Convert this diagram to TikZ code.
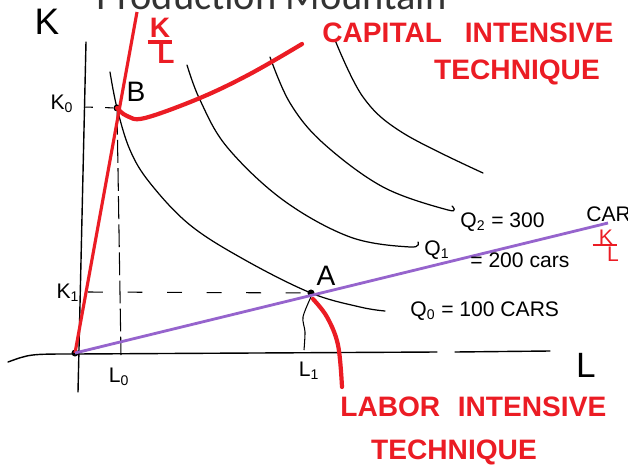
\documentclass[tikz,border=0pt]{standalone}
\usepackage{fontspec}
\setmainfont{Liberation Sans}
\newfontfamily\titlefont{Carlito}
\definecolor{hred}{RGB}{235,28,36}
\definecolor{hpurple}{RGB}{150,100,205}
\usetikzlibrary{arrows.meta,calc}

\begin{document}
\begin{tikzpicture}[x=0.02cm,y=-0.02cm,
  hand/.style={font=\fontsize{12}{14}\selectfont,inner sep=0pt},
  bighand/.style={font=\fontsize{16}{18}\selectfont,inner sep=0pt},
  redhand/.style={text=hred,font=\bfseries\fontsize{16}{18}\selectfont,inner sep=0pt},
  axisline/.style={line width=0.8pt,line cap=round},
  isoquant/.style={line width=0.7pt,line cap=round},
  guide/.style={line width=0.6pt,dash pattern=on 8.5pt off 14pt},
  dotpt/.style={circle,fill=black,inner sep=0pt,minimum size=4pt}
]
  \useasboundingbox (0,0) rectangle (628,473);
  % Title, cut off by the top edge
  \node[anchor=base west,font=\titlefont\fontsize{23}{25}\selectfont,text=black!80] (title) at (90,10) {Production Mountain};
  % Axes
  \draw[axisline] (86,42) -- (78,392);
  \draw[axisline] (8,362) .. controls (30,354) .. (75,354) -- (437,352);
  \draw[axisline] (455,352) -- (550,351);
  \node[bighand,font=\fontsize{21}{23}\selectfont] (lblK) at (47,22) {K};
  \node[bighand,font=\fontsize{20}{22}\selectfont] (lblL) at (586,365) {L};
  % Points
  \node[dotpt] (origin) at (75,353) {};
  \node[dotpt] (ptB) at (117,108) {};
  \node[dotpt] (ptA) at (311,293) {};
  \coordinate (klTop) at (137,12);
  \coordinate (pEnd) at (608,223);
  \coordinate (oTick) at (101,347);
  % Isoquants
  \draw[isoquant] plot[smooth,tension=0.6] coordinates {(110,72) (ptB.center) (130,150) (150,183) (190,225) (245,260) (ptA.center) (360,307) (385,311)};
  \draw[isoquant] plot[smooth,tension=0.6] coordinates {(187,65) (200,100) (227,147) (283,200) (350,237) (410,247) (418,242)};
  \draw[isoquant] plot[smooth,tension=0.6] coordinates {(270,57) (290,103) (323,143) (383,187) (448,210) (452,206)};
  \draw[isoquant] plot[smooth,tension=0.6] coordinates {(335,40) (363,97) (403,133) (483,173)};
  % Guide lines
  \coordinate (kZero) at (84,107);
  \coordinate (lZero) at (121,355);
  \coordinate (kOne) at (88,292);
  \coordinate (lOne) at (304,350);
  \draw[guide,dash pattern=on 5pt off 7pt] (kZero) -- (ptB);
  \draw[guide,dash pattern=on 13pt off 3pt] (ptB) -- (lZero);
  \draw[guide] (kOne) -- (ptA);
  \draw[line width=0.6pt] plot[smooth] coordinates {(ptA.south) (303,317) (305,332) (lOne)};
  % Rays
  \draw[line width=0.8pt] (origin.center) -- (oTick);
  \draw[hred,line width=1.8pt] (origin.center) -- (klTop);
  \draw[hpurple,line width=1.6pt] (origin.center) -- (pEnd);
  % Techniques
  \coordinate (capEnd) at (302,44);
  \coordinate (labEnd) at (342,387);
  \draw[hred,line width=2.4pt,line cap=round] plot[smooth,tension=0.6] coordinates {(ptB.center) (127,116) (145,118) (200,98) (250,74) (capEnd)};
  \draw[hred,line width=2.4pt,line cap=round] plot[smooth,tension=0.6] coordinates {(313,299) (327,317) (338,345) (labEnd)};
  % Point labels
  \node[bighand] (lblB) at (136,92) {B};
  \node[bighand] (lblA) at (326,276) {A};
  \node[hand] (lblKzero) at (62,104) {K\textsubscript{0}};
  \node[hand] (lblKone) at (68,293) {K\textsubscript{1}};
  \node[hand] (lblLzero) at (119,377) {L\textsubscript{0}};
  \node[hand] (lblLone) at (309,371) {L\textsubscript{1}};
  % Isoquant labels
  \node[hand,anchor=west] (lblQtwo) at (460,222) {Q\textsubscript{2} = 300};
  \node[hand,anchor=west] (lblQtwoC) at (586,214) {CARS};
  \node[hand] (lblQone) at (437,250) {Q\textsubscript{1}};
  \node[hand,anchor=west] (lblQoneC) at (470,260) {= 200 cars};
  \node[hand,anchor=west] (lblQzero) at (410,311) {Q\textsubscript{0} = 100 CARS};
  % K/L labels
  \node[redhand] (klK) at (160,28) {K};
  \node[inner sep=0pt] (klBar) at (160,42) {\color{hred}\rule{14pt}{2pt}};
  \node[redhand] (klL) at (166,54) {L};
  \node[hand,text=hred] (klKs) at (606,237) {K};
  \node[inner sep=0pt] (klBars) at (605,245) {\color{hred}\rule{14pt}{0.8pt}};
  \node[hand,text=hred] (klLs) at (613,254) {L};
  % Technique labels
  \node[redhand,anchor=west] (capA) at (322,33) {CAPITAL\hspace{13pt}INTENSIVE};
  \node[redhand] (capB) at (517,72) {TECHNIQUE};
  \node[redhand,anchor=west] (labA) at (340,407) {LABOR\hspace{10pt}INTENSIVE};
  \node[redhand] (labB) at (454,452) {TECHNIQUE};
\end{tikzpicture}
\end{document}
